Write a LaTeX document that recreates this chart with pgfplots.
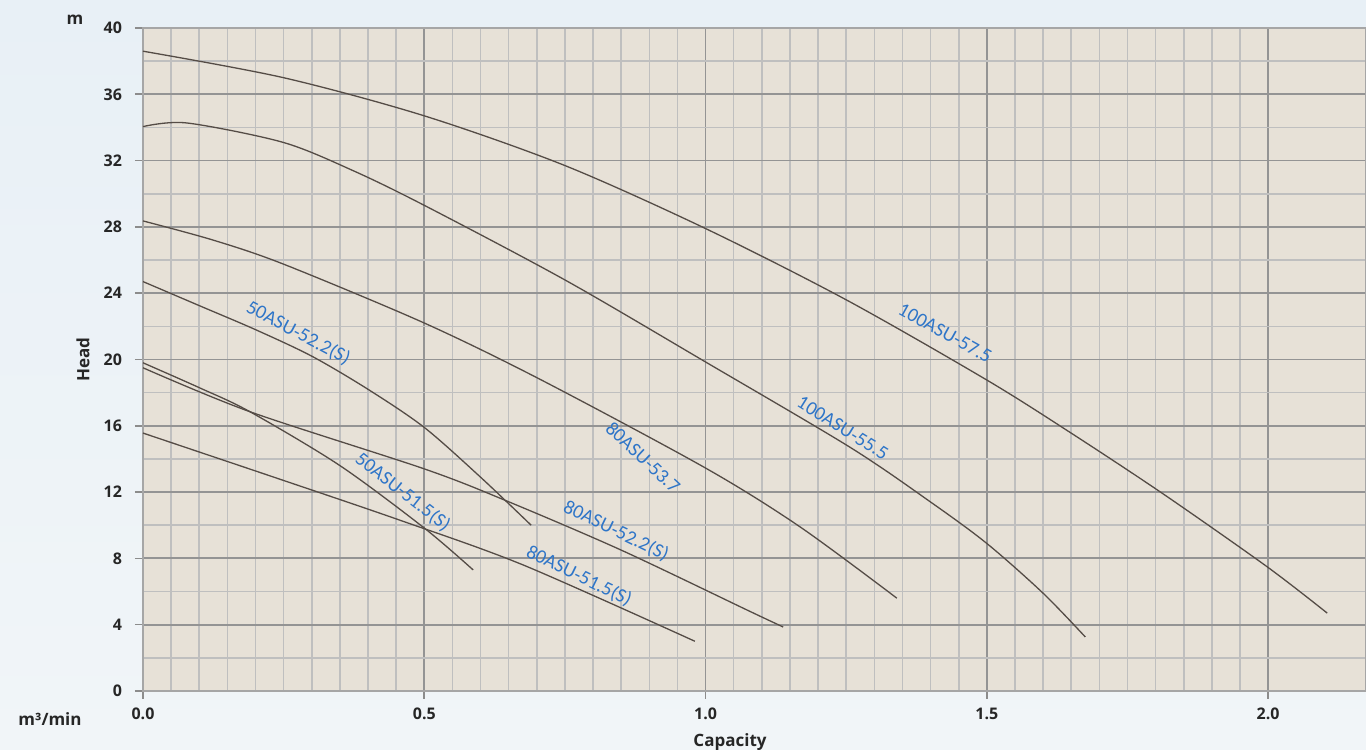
\documentclass[border=0pt]{standalone}
\usepackage{pgfplots}
\pgfplotsset{compat=1.18}
\usepackage{fontspec}
\setmainfont{Open Sans}
\newfontfamily\lblfont{Carlito}
\usetikzlibrary{backgrounds}
\definecolor{plotbg}{RGB}{231,225,215}
\definecolor{curve}{RGB}{85,76,70}
\definecolor{lblblue}{RGB}{46,117,200}
\definecolor{skytop}{RGB}{232,240,246}
\definecolor{skymid}{RGB}{228,226,240}
\definecolor{skybot}{RGB}{241,245,248}
\pgfplotsset{pc/.style={draw=curve, line width=0.65pt, smooth, mark=none}}
\begin{document}
\begin{tikzpicture}
\begin{axis}[name=ax, width=611.5pt, height=331.5pt, scale only axis,
  xmin=0, xmax=2.174, ymin=0, ymax=40,
  axis background/.style={fill=plotbg},
  xtick={0,0.5,1,1.5,2}, xticklabels={0.0,0.5,1.0,1.5,2.0},
  ytick={0,4,...,40}, yticklabels={0,4,8,12,16,20,24,28,32,36,40},
  minor x tick num=9, minor y tick num=1,
  grid=both,
  major grid style={draw=black!42, line width=0.9pt},
  minor grid style={draw=black!25, line width=0.8pt},
  tick align=outside, major tick length=4pt, minor tick length=0pt,
  tick style={draw=black!45, line width=0.8pt},
  xtick pos=lower, ytick pos=left,
  axis line style={draw=black!35, line width=0.8pt},
  tick label style={font=\bfseries\fontsize{8}{9}\selectfont, text=black!85},
  yticklabel style={xshift=-3pt},
  xticklabel style={yshift=-1pt},
  /pgf/number format/assume math mode=true,
  clip=true,
]
% 100ASU-57.5
\addplot[pc] coordinates {(0,38.6) (0.25,37.0) (0.5,34.7) (0.75,31.7) (1.0,27.9) (1.25,23.6) (1.5,18.76) (1.648,15.6) (1.813,11.9) (1.998,7.5) (2.105,4.7)};
% 100ASU-55.5
\addplot[pc] coordinates {(0,34.05) (0.078,34.27) (0.249,33.1) (0.373,31.4) (0.5,29.3) (0.75,24.8) (1.0,19.85) (1.257,14.7) (1.4,11.4) (1.5,8.9) (1.6,5.9) (1.675,3.26)};
% 80ASU-53.7
\addplot[pc] coordinates {(0,28.36) (0.125,27.2) (0.25,25.75) (0.5,22.2) (0.706,18.8) (1.0,13.45) (1.168,9.9) (1.34,5.6)};
% 50ASU-52.2(S)
\addplot[pc] coordinates {(0,24.7) (0.1,23.25) (0.2,21.8) (0.3,20.2) (0.4,18.2) (0.5,15.9) (0.6,12.9) (0.69,10.0)};
% 80ASU-52.2(S)
\addplot[pc] coordinates {(0,19.5) (0.19,16.85) (0.5,13.4) (0.644,11.5) (0.85,8.5) (1.079,4.8) (1.138,3.86)};
% 50ASU-51.5(S)
\addplot[pc] coordinates {(0,19.8) (0.1,18.3) (0.19,16.85) (0.35,13.6) (0.5,9.83) (0.587,7.3)};
% 80ASU-51.5(S)
\addplot[pc] coordinates {(0,15.56) (0.25,12.7) (0.457,10.3) (0.676,7.6) (0.981,3.0)};

\begin{scope}[every node/.style={font=\lblfont\fontsize{9.8}{10}\selectfont, text=lblblue, inner sep=0pt}]
\node[rotate=-29] at (axis cs:1.426,21.6) {100ASU-57.5};
\node[rotate=-32] at (axis cs:1.244,15.87) {100ASU-55.5};
\node[rotate=-43] at (axis cs:0.889,14.1) {80ASU-53.7};
\node[rotate=-28] at (axis cs:0.276,21.6) {50ASU-52.2(S)};
\node[rotate=-38] at (axis cs:0.462,12.0) {50ASU-51.5(S)};
\node[rotate=-26] at (axis cs:0.841,9.65) {80ASU-52.2(S)};
\node[rotate=-26] at (axis cs:0.775,6.94) {80ASU-51.5(S)};
\end{scope}
\end{axis}
\begin{scope}[every node/.style={font=\bfseries\fontsize{8.5}{10}\selectfont, text=black!85}]
\node[anchor=base] at ([xshift=293.5pt,yshift=-28pt]ax.south west) {Capacity};
\node[rotate=90] at ([xshift=-30pt]ax.west) {Head};
\node[anchor=base] at ([xshift=-34pt,yshift=1.5pt]ax.north west) {m};
\node[anchor=base] at ([xshift=-46.5pt,yshift=-17.5pt]ax.south west) {m³/min};
\end{scope}
\pgfresetboundingbox
\path[use as bounding box] ([xshift=-71.5pt,yshift=-29.5pt]ax.south west) rectangle ([yshift=14pt]ax.north east);
\begin{scope}[on background layer]
\shade[top color=skytop, middle color=skymid, bottom color=skybot] ([xshift=-71.5pt,yshift=-29.5pt]ax.south west) rectangle ([yshift=14pt]ax.north east);
\end{scope}
\end{tikzpicture}
\end{document}
